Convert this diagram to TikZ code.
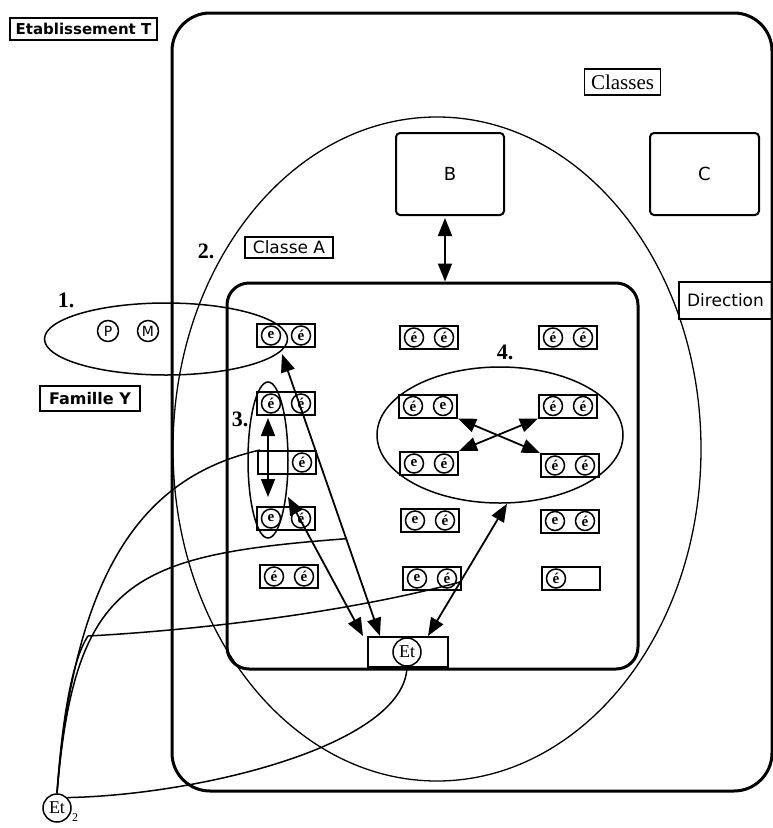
\documentclass[tikz,border=0pt]{standalone}
\usepackage{fontspec}
\setmainfont{Liberation Serif}
\newfontfamily\lblfont{DejaVu Sans}
\usetikzlibrary{arrows.meta,calc,shapes.geometric}
\tikzset{
  frame/.style={draw, line width=3pt, inner sep=0pt},
  tag/.style={draw, line width=1.7pt, inner sep=0pt, align=center},
  sanslbl/.style={tag, font=\lblfont\fontsize{17}{17}\selectfont},
  boldlbl/.style={tag, font=\lblfont\bfseries\fontsize{15}{15}\selectfont},
  roombox/.style={draw, line width=2pt, rounded corners=4pt, inner sep=0pt, font=\lblfont\fontsize{18}{18}\selectfont},
  deskbox/.style={draw, line width=2pt, minimum width=58pt, minimum height=23pt, inner sep=0pt},
  pupil/.style={circle, draw, line width=1.5pt, minimum size=19pt, inner sep=0pt, font=\bfseries\fontsize{15}{15}\selectfont},
  person/.style={circle, draw, line width=1.5pt, inner sep=0pt},
  num/.style={font=\bfseries\fontsize{22}{22}\selectfont, inner sep=0pt},
  ring/.style={ellipse, draw, line width=1.5pt, inner sep=0pt},
  dbl/.style={line width=1.8pt, {Triangle[length=18pt,width=14pt]}-{Triangle[length=18pt,width=14pt]}},
  link/.style={line width=1.5pt},
}
\newcommand\deskpair[5]{%
  \node[deskbox] (#1) at (#2,#3) {};
  \node[pupil] (#1a) at ($(#1.center)+(-15,0)$) {#4};
  \node[pupil] (#1b) at ($(#1.center)+(15,0)$) {#5};}
\newcommand\deskleft[4]{%
  \node[deskbox] (#1) at (#2,#3) {};
  \node[pupil] (#1a) at ($(#1.center)+(-15,0)$) {#4};}
\newcommand\deskright[4]{%
  \node[deskbox] (#1) at (#2,#3) {};
  \node[pupil] (#1b) at ($(#1.center)+(15,0)$) {#4};}
\begin{document}
\begin{tikzpicture}[x=1pt,y=-1pt]
\useasboundingbox (0,0) rectangle (773,828);

% frames
\node[frame, rounded corners=38pt, minimum width=600pt, minimum height=778pt] (etab) at (472,402) {};
\node[frame, rounded corners=22pt, minimum width=411pt, minimum height=386pt] (clsA) at (432.5,476) {};

% labels
\node[boldlbl, minimum width=147pt, minimum height=22pt] (lblE) at (83.5,29) {Etablissement T};
\node[tag, font=\fontsize{21}{21}\selectfont, minimum width=76pt, minimum height=26pt] (lblCl) at (622.5,82) {Classes};
\node[sanslbl, minimum width=88pt, minimum height=21pt] (lblA) at (289,247.5) {Classe A};
\node[sanslbl, minimum width=93pt, minimum height=37pt] (lblD) at (725.5,300.5) {Direction};
\node[boldlbl, font=\lblfont\bfseries\fontsize{16}{16}\selectfont, minimum width=100pt, minimum height=25pt] (lblF) at (90,398.5) {Famille Y};

% other classes
\node[roombox, minimum width=108pt, minimum height=82pt] (B) at (450,174) {B};
\node[roombox, minimum width=109pt, minimum height=82pt] (C) at (704.5,174) {C};

% numbers
\node[num] (n1) at (66,300) {1.};
\node[num] (n2) at (206,251) {2.};
\node[num] (n3) at (240,419) {3.};
\node[num] (n4) at (505,352) {4.};

% ellipses
\node[ring, line width=1.3pt, minimum width=528pt, minimum height=664pt] (e2) at (437,449) {};
\node[ring, minimum width=243pt, minimum height=72pt] (ef) at (166,339) {};
\node[ring, minimum width=40pt, minimum height=156pt] (e3) at (268,460) {};
\node[ring, minimum width=246pt, minimum height=136pt] (e4) at (500,435) {};

% family
\node[person, minimum size=21pt, font=\lblfont\fontsize{14}{14}\selectfont] (P) at (108,331) {P};
\node[person, minimum size=21pt, font=\lblfont\fontsize{14}{14}\selectfont] (M) at (148,331) {M};

% desks
\deskpair{d11}{286}{335.5}{e}{é}
\deskpair{d21}{286}{403.5}{é}{é}
\deskright{d31}{287}{462.5}{é}
\deskpair{d41}{286}{518.5}{e}{é}
\deskpair{d51}{289}{576.5}{é}{é}

\deskpair{d12}{429}{337.5}{é}{é}
\deskpair{d22}{428}{406}{é}{e}
\deskpair{d32}{429}{463.5}{e}{é}
\deskpair{d42}{430}{520.5}{e}{é}
\deskpair{d52}{432}{578.5}{e}{é}

\deskpair{d13}{568}{337.5}{é}{é}
\deskpair{d23}{568}{406}{é}{é}
\deskpair{d33}{570}{465.5}{é}{é}
\deskpair{d43}{570}{521}{e}{é}
\deskleft{d53}{571}{578.5}{é}

% the pupil Et
\node[draw, line width=2pt, minimum width=80pt, minimum height=30pt, inner sep=0pt] (etbox) at (408,652) {};
\node[person, minimum size=28pt, font=\fontsize{18}{18}\selectfont] (etc) at (407,652) {Et};
\node[person, minimum size=28pt, font=\fontsize{18}{18}\selectfont] (et2) at (57,808) {Et};
\node[font=\fontsize{12}{12}\selectfont, inner sep=0pt] (et2i) at (75,818) {2};

% arrows
\coordinate (bx) at ($(B.south)+(-5,2)$);
\draw[dbl] (bx) -- (bx |- clsA.north);

\coordinate (a1s) at ($(d11.south)+(-4,6)$);
\coordinate (a1e) at ($(etbox.north)+(-28,0)$);
\draw[dbl] (a1s) -- (a1e);
\draw[dbl] ($(d41.north)+(2,-9)$) -- ($(etbox.north)+(-45,0)$);
\draw[dbl] ($(etbox.north)+(20,0)$) -- ($(e4.south)+(7,0)$);
\draw[dbl] ($(d21.south)+(-18,2)$) -- ($(d41.north)+(-18,-9)$);
\draw[dbl] (d22.south east) -- (d33.north west);
\draw[dbl] (d32.north east) -- (d23.south west);

% links of Et2
\coordinate (touch) at ($(a1s)!0.655!(a1e)$);
\coordinate (bend) at (88,636);
\draw[link] (et2.north) .. controls (75,560) and (150,475) .. ($(d31.north west)+(3,0)$);
\draw[link] (et2.north) .. controls (75,580) and (130,555) .. (touch);
\draw[link] (et2.north) .. controls (62,720) and (72,660) .. (bend)
  .. controls (200,630) and (350,612) .. ($(d52.east)+(0,3)$);
\draw[link] (et2.north east) .. controls (200,795) and (405,745) .. (etc.south);
\end{tikzpicture}
\end{document}
